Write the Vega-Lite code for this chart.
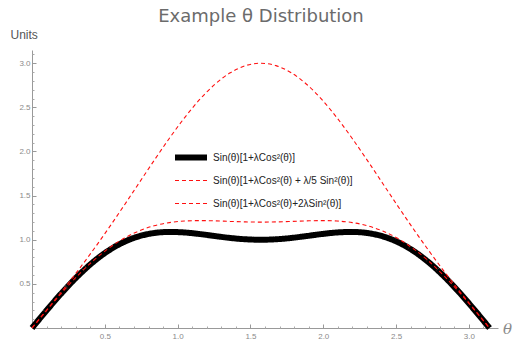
{
  "$schema": "https://vega.github.io/schema/vega-lite/v6.json",
  "autosize": {"type": "none"},
  "padding": {"left": 32, "top": 50, "right": 15, "bottom": 17},
  "width": 466,
  "height": 278,
  "background": "white",
  "config": {
    "font": "Liberation Sans",
    "view": {"stroke": null}
  },
  "title": {
    "text": "Example θ Distribution",
    "font": "DejaVu Sans",
    "fontSize": 18,
    "fontWeight": "normal",
    "color": "#6b6b6b",
    "anchor": "middle",
    "frame": "group",
    "offset": 0,
    "dx": -4,
    "dy": -2
  },
  "data": {
    "values": [
      {"t": 0, "a": 0, "b": 0, "c": 0},
      {"t": 0.1047, "a": 0.20791, "b": 0.20814, "c": 0.21020},
      {"t": 0.2094, "a": 0.40684, "b": 0.40863, "c": 0.42481},
      {"t": 0.3142, "a": 0.58853, "b": 0.59443, "c": 0.64754},
      {"t": 0.4189, "a": 0.74619, "b": 0.75964, "c": 0.88076},
      {"t": 0.5236, "a": 0.875, "b": 0.9, "c": 1.125},
      {"t": 0.6283, "a": 0.97250, "b": 1.01311, "c": 1.37864},
      {"t": 0.7330, "a": 1.03867, "b": 1.09860, "c": 1.63786},
      {"t": 0.8378, "a": 1.07588, "b": 1.15796, "c": 1.89670},
      {"t": 0.9425, "a": 1.08853, "b": 1.19441, "c": 2.14754},
      {"t": 1.0472, "a": 1.08253, "b": 1.21244, "c": 2.38157},
      {"t": 1.1519, "a": 1.06468, "b": 1.21716, "c": 2.58950},
      {"t": 1.2566, "a": 1.04188, "b": 1.21392, "c": 2.76235},
      {"t": 1.3614, "a": 1.02043, "b": 1.20760, "c": 2.89216},
      {"t": 1.4661, "a": 1.00539, "b": 1.20212, "c": 2.97270},
      {"t": 1.5708, "a": 1, "b": 1.2, "c": 3},
      {"t": 1.6755, "a": 1.00539, "b": 1.20212, "c": 2.97270},
      {"t": 1.7802, "a": 1.02043, "b": 1.20760, "c": 2.89216},
      {"t": 1.8850, "a": 1.04188, "b": 1.21392, "c": 2.76235},
      {"t": 1.9897, "a": 1.06468, "b": 1.21716, "c": 2.58950},
      {"t": 2.0944, "a": 1.08253, "b": 1.21244, "c": 2.38157},
      {"t": 2.1991, "a": 1.08853, "b": 1.19441, "c": 2.14754},
      {"t": 2.3038, "a": 1.07588, "b": 1.15796, "c": 1.89670},
      {"t": 2.4086, "a": 1.03867, "b": 1.09860, "c": 1.63786},
      {"t": 2.5133, "a": 0.97250, "b": 1.01311, "c": 1.37864},
      {"t": 2.6180, "a": 0.875, "b": 0.9, "c": 1.125},
      {"t": 2.7227, "a": 0.74619, "b": 0.75964, "c": 0.88076},
      {"t": 2.8274, "a": 0.58853, "b": 0.59443, "c": 0.64754},
      {"t": 2.9322, "a": 0.40684, "b": 0.40863, "c": 0.42481},
      {"t": 3.0369, "a": 0.20791, "b": 0.20814, "c": 0.21020},
      {"t": 3.1416, "a": 0, "b": 0, "c": 0}
    ]
  },
  "transform": [{"fold": ["a", "b", "c"], "as": ["series", "value"]}],
  "layer": [
    {
      "mark": {"type": "line", "interpolate": "monotone", "strokeCap": "butt", "clip": false},
      "encoding": {
        "x": {
          "field": "t", "type": "quantitative",
          "scale": {"domain": [0, 3.2], "nice": false, "zero": false},
          "axis": {
            "orient": "bottom",
            "values": [0.5, 1.0, 1.5, 2.0, 2.5, 3.0],
            "format": ".1f",
            "grid": false,
            "domainColor": "#999999",
            "tickColor": "#999999",
            "tickSize": -4,
            "labelPadding": 8,
            "labelFontSize": 8,
            "labelColor": "#8a8a8a",
            "title": "θ",
            "titleFont": "DejaVu Serif",
            "titleFontStyle": "italic",
            "titleFontWeight": "normal",
            "titleFontSize": 15,
            "titleColor": "#8a8a8a",
            "titleAngle": 0,
            "titleX": 475,
            "titleY": 0,
            "titleAlign": "center",
            "titleBaseline": "middle"
          }
        },
        "y": {
          "field": "value", "type": "quantitative",
          "scale": {"domain": [0, 3.15], "nice": false, "zero": false},
          "axis": {
            "orient": "left",
            "values": [0.5, 1.0, 1.5, 2.0, 2.5, 3.0],
            "format": ".1f",
            "grid": false,
            "domainColor": "#999999",
            "tickColor": "#999999",
            "tickSize": -4,
            "labelPadding": 6,
            "labelFontSize": 8,
            "labelColor": "#8a8a8a",
            "title": "Units",
            "titleFontSize": 12,
            "titleFontWeight": "normal",
            "titleColor": "#555555",
            "titleAngle": 0,
            "titleX": -22,
            "titleY": -9,
            "titleAlign": "left",
            "titleBaseline": "bottom"
          }
        },
        "color": {
          "field": "series", "type": "nominal",
          "scale": {"domain": ["a", "b", "c"], "range": ["#000000", "#ff1010", "#ff1010"]},
          "legend": {
            "title": null,
            "orient": "none",
            "legendX": 140,
            "legendY": 96,
            "padding": 0,
            "symbolType": "stroke",
            "symbolSize": 1024,
            "labelFontSize": 10,
            "labelColor": "#222222",
            "labelOffset": 3,
            "clipHeight": 23,
            "rowPadding": 0,
            "labelExpr": "datum.label == 'a' ? 'Sin(θ)[1+λCos²(θ)]' : datum.label == 'b' ? 'Sin(θ)[1+λCos²(θ) + λ/5 Sin²(θ)]' : 'Sin(θ)[1+λCos²(θ)+2λSin²(θ)]'",
            "encode": {
              "symbols": {
                "update": {
                  "stroke": {"signal": "datum.value == 'a' ? '#000000' : '#ff1010'"},
                  "opacity": {"value": 1},
                  "strokeOpacity": {"value": 1},
                  "strokeWidth": {"signal": "datum.value == 'a' ? 6 : 1.1"},
                  "strokeDash": {"signal": "datum.value == 'a' ? [1, 0] : [4, 3]"}
                }
              }
            }
          }
        },
        "strokeDash": {
          "field": "series", "type": "nominal",
          "scale": {"type": "ordinal", "domain": ["a", "b", "c"], "range": [[1, 0], [4, 3], [4, 3]]},
          "legend": null
        },
        "strokeWidth": {
          "field": "series", "type": "nominal",
          "scale": {"type": "ordinal", "domain": ["a", "b", "c"], "range": [6, 1.1, 1.1]},
          "legend": null
        }
      }
    },
    {
      "mark": {"type": "line", "opacity": 0},
      "encoding": {
        "x": {
          "field": "t", "type": "quantitative",
          "axis": {
            "orient": "bottom",
            "values": [0.1, 0.2, 0.3, 0.4, 0.6, 0.7, 0.8, 0.9, 1.1, 1.2, 1.3, 1.4, 1.6, 1.7, 1.8, 1.9, 2.1, 2.2, 2.3, 2.4, 2.6, 2.7, 2.8, 2.9, 3.1],
            "labels": false,
            "domain": false,
            "grid": false,
            "tickColor": "#aaaaaa",
            "tickSize": -2,
            "title": null
          }
        },
        "y": {
          "field": "value", "type": "quantitative",
          "axis": {
            "orient": "left",
            "values": [0.1, 0.2, 0.3, 0.4, 0.6, 0.7, 0.8, 0.9, 1.1, 1.2, 1.3, 1.4, 1.6, 1.7, 1.8, 1.9, 2.1, 2.2, 2.3, 2.4, 2.6, 2.7, 2.8, 2.9, 3.1],
            "labels": false,
            "domain": false,
            "grid": false,
            "tickColor": "#aaaaaa",
            "tickSize": -2,
            "title": null
          }
        },
        "detail": {"field": "series", "type": "nominal"}
      }
    }
  ],
  "resolve": {"axis": {"x": "independent", "y": "independent"}}
}
